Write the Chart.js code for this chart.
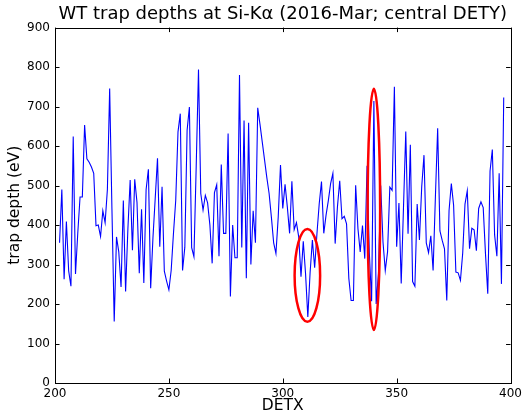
<!DOCTYPE html>
<html>
<head>
<meta charset="utf-8">
<script src="https://cdn.jsdelivr.net/npm/chart.js@4/dist/chart.umd.min.js"></script>
<style>
  body { margin: 0; background: #fff; }
  #wrap { width: 526px; height: 414px; }
</style>
</head>
<body>
<div id="wrap"><canvas id="trapChart" width="526" height="414"></canvas></div>
<script>
const detx = [
    202, 203, 204, 205, 206, 207, 208, 209, 210, 211,
    212, 213, 214, 215, 216, 217, 218, 219, 220, 221,
    222, 223, 224, 225, 226, 227, 228, 229, 230, 231,
    232, 233, 234, 235, 236, 237, 238, 239, 240, 241,
    242, 243, 244, 245, 246, 247, 248, 249, 250, 251,
    252, 253, 254, 255, 256, 257, 258, 259, 260, 261,
    262, 263, 264, 265, 266, 267, 268, 269, 270, 271,
    272, 273, 274, 275, 276, 277, 278, 279, 280, 281,
    282, 283, 284, 285, 286, 287, 288, 289, 290, 291,
    292, 293, 294, 295, 296, 297, 298, 299, 300, 301,
    302, 303, 304, 305, 306, 307, 308, 309, 310, 311,
    312, 313, 314, 315, 316, 317, 318, 319, 320, 321,
    322, 323, 324, 325, 326, 327, 328, 329, 330, 331,
    332, 333, 334, 335, 336, 337, 338, 339, 340, 341,
    342, 343, 344, 345, 346, 347, 348, 349, 350, 351,
    352, 353, 354, 355, 356, 357, 358, 359, 360, 361,
    362, 363, 364, 365, 366, 367, 368, 369, 370, 371,
    372, 373, 374, 375, 376, 377, 378, 379, 380, 381,
    382, 383, 384, 385, 386, 387, 388, 389, 390, 391,
    392, 393, 394, 395, 396, 397
];

// trap depth in eV, one value per DETX column
const trapDepth = [
    355, 490, 263, 409, 284, 245, 624, 276, 380, 471,
    471, 653, 568, 559, 547, 531, 398, 400, 371, 436,
    406, 490, 746, 440, 156, 370, 332, 243, 462, 232,
    390, 514, 336, 516, 457, 278, 440, 253, 490, 541,
    240, 367, 468, 569, 345, 497, 283, 258, 236, 285,
    378, 462, 636, 682, 285, 344, 640, 699, 343, 320,
    550, 794, 480, 438, 475, 456, 400, 303, 482, 502,
    321, 553, 379, 379, 632, 219, 400, 317, 317, 780,
    343, 665, 265, 659, 300, 436, 355, 697, 655, 610,
    565, 520, 480, 420, 355, 328, 420, 552, 442, 503,
    446, 379, 511, 388, 406, 370, 269, 359, 277, 167,
    280, 362, 292, 378, 454, 510, 379, 425, 462, 505,
    531, 353, 446, 512, 416, 422, 403, 265, 209, 209,
    501, 391, 332, 399, 315, 550, 330, 207, 714, 200,
    277, 500, 357, 285, 332, 496, 488, 750, 345, 456,
    252, 445, 637, 378, 603, 257, 245, 453, 362, 497,
    577, 355, 330, 373, 285, 470, 645, 385, 361, 340,
    209, 437, 505, 450, 281, 279, 260, 329, 453, 487,
    340, 392, 388, 335, 442, 459, 444, 327, 226, 537,
    591, 375, 321, 531, 251, 723
];

// red rings drawn by hand on the plot: centre DETX, half width, lowest and highest depth
const ringDetx = [310.8, 340];
const ringHalfWidth = [5.6, 2.75];
const ringLow = [155, 134];
const ringHigh = [390, 745];

const xTicks = [200, 250, 300, 350, 400];
const yTicks = [0, 100, 200, 300, 400, 500, 600, 700, 800, 900];

const FONT = "'DejaVu Sans', sans-serif";

// matplotlib-like frame: box plus inward ticks on all four sides
const framePlugin = {
    id: 'frame',
    afterDatasetsDraw(chart) {
        const ctx = chart.ctx;
        const { left, right, top, bottom } = chart.chartArea;
        const xs = chart.scales.x, ys = chart.scales.y;

        ctx.save();
        ctx.strokeStyle = '#ff0000';
        ctx.lineWidth = 2.5;
        for (let i = 0; i < ringDetx.length; i++) {
            const cx = xs.getPixelForValue(ringDetx[i]);
            const rx = xs.getPixelForValue(ringDetx[i] + ringHalfWidth[i]) - cx;
            const yTop = ys.getPixelForValue(ringHigh[i]);
            const yBot = ys.getPixelForValue(ringLow[i]);
            ctx.beginPath();
            ctx.ellipse(cx, (yTop + yBot) / 2, rx, (yBot - yTop) / 2, 0, 0, Math.PI * 2);
            ctx.stroke();
        }
        ctx.restore();

        ctx.save();
        ctx.strokeStyle = '#000';
        ctx.lineWidth = 1;
        ctx.strokeRect(Math.round(left) + 0.5, Math.round(top) + 0.5,
            Math.round(right - left), Math.round(bottom - top));
        const len = 4.5;
        ctx.beginPath();
        xTicks.forEach(v => {
            const px = Math.round(xs.getPixelForValue(v)) + 0.5;
            ctx.moveTo(px, bottom); ctx.lineTo(px, bottom - len);
            ctx.moveTo(px, top); ctx.lineTo(px, top + len);
        });
        yTicks.forEach(v => {
            const py = Math.round(ys.getPixelForValue(v)) + 0.5;
            ctx.moveTo(left, py); ctx.lineTo(left + len, py);
            ctx.moveTo(right, py); ctx.lineTo(right - len, py);
        });
        ctx.stroke();
        ctx.restore();
    }
};

new Chart(document.getElementById('trapChart').getContext('2d'), {
    type: 'line',
    data: {
        datasets: [{
            label: 'trap depth',
            data: detx.map((d, i) => ({ x: d, y: trapDepth[i] })),
            borderColor: '#0000ff',
            borderWidth: 1.1,
            pointRadius: 0,
            tension: 0,
            fill: false
        }]
    },
    options: {
        responsive: false,
        animation: false,
        layout: { padding: { left: 0, right: 11, top: 0, bottom: 0 } },
        scales: {
            x: {
                type: 'linear',
                min: 200,
                max: 400,
                afterBuildTicks: s => { s.ticks = xTicks.map(v => ({ value: v })); },
                afterFit: s => { s.height = 31; },
                grid: { display: false, drawTicks: false },
                border: { display: false },
                ticks: { color: '#000', font: { family: FONT, size: 12 }, padding: 4, maxRotation: 0 },
                title: { display: true, text: 'DETX', color: '#000', font: { family: FONT, size: 15.5, lineHeight: 1 }, padding: 0 }
            },
            y: {
                type: 'linear',
                min: 0,
                max: 900,
                afterBuildTicks: s => { s.ticks = yTicks.map(v => ({ value: v })); },
                afterFit: s => { s.width = 55; },
                grid: { display: false, drawTicks: false },
                border: { display: false },
                ticks: { color: '#000', font: { family: FONT, size: 12 }, padding: 5 },
                title: { display: true, text: 'trap depth (eV)', color: '#000', font: { family: FONT, size: 15.5, lineHeight: 1 }, padding: { top: 7, bottom: 0 } }
            }
        },
        plugins: {
            legend: { display: false },
            tooltip: { enabled: false },
            title: {
                display: true,
                fullSize: false,
                text: 'WT trap depths at Si-K\u03b1 (2016-Mar; central DETY)',
                color: '#000',
                font: { family: FONT, size: 18, weight: 'normal', lineHeight: 1.2 },
                padding: { top: 4, bottom: 2 }
            }
        }
    },
    plugins: [framePlugin]
});
</script>
</body>
</html>
